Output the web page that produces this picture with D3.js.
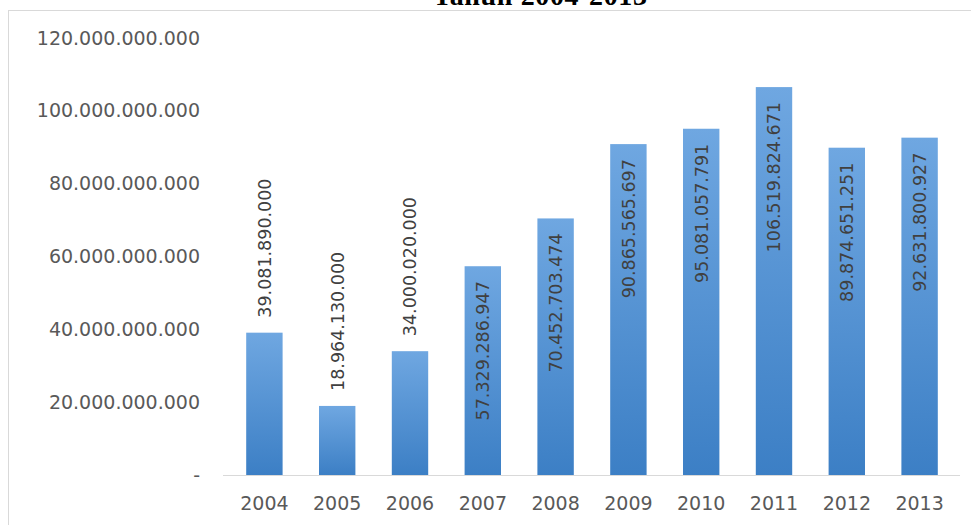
<!DOCTYPE html>
<html>
<head>
<meta charset="utf-8">
<script src="https://cdn.jsdelivr.net/npm/d3@7"></script>
<style>
  body { margin: 0; background: #fff; }
  svg { display: block; }
</style>
</head>
<body>
<svg id="chart" width="971" height="525"></svg>
<script>
// data
const years = ["2004", "2005", "2006", "2007", "2008", "2009", "2010", "2011", "2012", "2013"];
const values = [39081890000, 18964130000, 34000020000, 57329286947, 70452703474,
                90865565697, 95081057791, 106519824671, 89874651251, 92631800927];
const yTicks = [0, 20000000000, 40000000000, 60000000000, 80000000000, 100000000000, 120000000000];
// labels of the first three bars sit above the bar, the rest inside
const labelOutside = [true, true, true, false, false, false, false, false, false, false];
const title = "Tahun 2004-2013";

const data = years.map((y, i) => ({ year: y, value: values[i], outside: labelOutside[i] }));

const svg = d3.select("#chart");

// Indonesian number format: dots for thousands
const idLocale = d3.formatLocale({ decimal: ",", thousands: ".", grouping: [3], currency: ["", ""] });
const fmt = idLocale.format(",d");

const x = d3.scaleBand()
    .domain(years)
    .range([228, 956])
    .paddingInner(0.5)
    .paddingOuter(0.25);

const y = d3.scaleLinear()
    .domain([0, 120000000000])
    .range([475, 38]);

// gradient for the bars
const grad = svg.append("defs").append("linearGradient")
    .attr("id", "barGrad")
    .attr("x1", 0).attr("y1", 0).attr("x2", 0).attr("y2", 1);
grad.append("stop").attr("offset", "0%").attr("stop-color", "#6fa7e1");
grad.append("stop").attr("offset", "100%").attr("stop-color", "#3c7fc5");

// chart frame (only left and top show in the window)
svg.append("rect")
    .attr("x", 8.5).attr("y", 10.5)
    .attr("width", 1000).attr("height", 600)
    .attr("fill", "#fff")
    .attr("stroke", "#d9d9d9");

// title, mostly cut off at top
svg.append("text")
    .attr("x", 540).attr("y", 5)
    .attr("text-anchor", "middle")
    .attr("font-family", "Liberation Serif, Times New Roman, serif")
    .attr("font-weight", "bold")
    .attr("font-size", 28)
    .attr("textLength", 214)
    .attr("fill", "#000")
    .text(title);

// y axis labels
const yAxis = svg.append("g")
    .attr("transform", "translate(200,0)")
    .call(d3.axisLeft(y).tickValues(yTicks).tickSize(0).tickPadding(0)
        .tickFormat(d => d === 0 ? "-" : fmt(d)));
yAxis.select(".domain").remove();
yAxis.selectAll("text")
    .attr("font-family", "DejaVu Sans, sans-serif")
    .attr("font-size", 19)
    .attr("fill", "#595959");

// baseline
svg.append("line")
    .attr("x1", 223).attr("x2", 960)
    .attr("y1", y(0) + 0.5).attr("y2", y(0) + 0.5)
    .attr("stroke", "#d9d9d9");

// x axis labels
const xAxis = svg.append("g")
    .attr("transform", `translate(0,${y(0)})`)
    .call(d3.axisBottom(x).tickSize(0).tickPadding(22));
xAxis.select(".domain").remove();
xAxis.selectAll("text")
    .attr("font-family", "DejaVu Sans, sans-serif")
    .attr("font-size", 19)
    .attr("fill", "#595959");

// bars
svg.selectAll(".bar")
    .data(data)
    .enter()
    .append("rect")
    .attr("class", "bar")
    .attr("x", d => x(d.year))
    .attr("y", d => y(d.value))
    .attr("width", x.bandwidth())
    .attr("height", d => y(0) - y(d.value))
    .attr("fill", "url(#barGrad)");

// rotated value labels
svg.selectAll(".val")
    .data(data)
    .enter()
    .append("text")
    .attr("class", "val")
    .attr("transform", d => {
        const cx = x(d.year) + x.bandwidth() / 2;
        const cy = d.outside ? y(d.value) - 15 : y(d.value) + 15;
        return `translate(${cx},${cy}) rotate(-90)`;
    })
    .attr("text-anchor", d => d.outside ? "start" : "end")
    .attr("dy", "0.36em")
    .attr("font-family", "DejaVu Sans, sans-serif")
    .attr("font-size", 17.5)
    .attr("fill", "#404040")
    .text(d => fmt(d.value));
</script>
</body>
</html>
